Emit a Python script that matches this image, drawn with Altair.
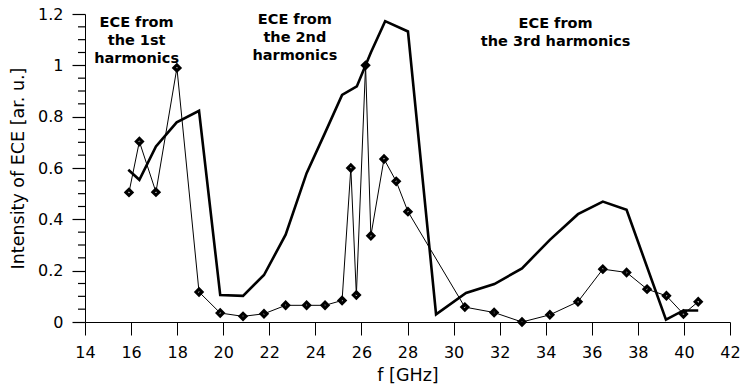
import altair as alt
import pandas as pd

# Measured ECE intensity (thin line with diamonds)
meas_f = [15.91, 16.36, 17.08, 17.99, 18.95, 19.87, 20.86, 21.77, 22.71, 23.62,
          24.42, 25.16, 25.54, 25.78, 26.18, 26.41, 26.98, 27.51, 28.02, 30.49,
          31.76, 32.97, 34.18, 35.40, 36.48, 37.51, 38.40, 39.24, 39.98, 40.62]
meas_v = [0.505, 0.703, 0.506, 0.99, 0.117, 0.035, 0.022, 0.032, 0.065, 0.065,
          0.065, 0.084, 0.60, 0.105, 1.0, 0.336, 0.635, 0.548, 0.43, 0.058,
          0.037, 0.0, 0.028, 0.079, 0.206, 0.193, 0.128, 0.102, 0.031, 0.079]

# Calculated ECE intensity (thick line)
calc_f = [15.88, 16.36, 17.08, 17.98, 18.95, 19.87, 20.86, 21.77, 22.71, 23.62,
          24.42, 25.16, 25.80, 26.18, 26.41, 27.03, 28.02, 29.24, 30.54, 31.77,
          32.97, 34.18, 35.40, 36.48, 37.51, 39.22, 39.98, 40.62]
calc_v = [0.593, 0.554, 0.684, 0.778, 0.823, 0.105, 0.102, 0.183, 0.34, 0.58,
          0.737, 0.885, 0.918, 1.0, 1.05, 1.172, 1.132, 0.03, 0.113, 0.148,
          0.209, 0.32, 0.42, 0.469, 0.437, 0.009, 0.045, 0.045]

# Harmonic region labels, anchored in data units (top of first line)
note_text = ["ECE from\nthe 1st\nharmonics",
             "ECE from\nthe 2nd\nharmonics",
             "ECE from\nthe 3rd harmonics"]
note_f = [16.24, 23.11, 34.43]
note_v = [1.194, 1.203, 1.19]

x_ticks = list(range(14, 43, 2))
y_ticks = [0, 0.2, 0.4, 0.6, 0.8, 1.0, 1.2]
y_minor = [0.05, 0.1, 0.15, 0.25, 0.3, 0.35, 0.45, 0.5, 0.55, 0.65, 0.7, 0.75,
           0.85, 0.9, 0.95, 1.05, 1.1, 1.15]

meas = pd.DataFrame({"f": meas_f, "v": meas_v, "i": range(len(meas_f))})
calc = pd.DataFrame({"f": calc_f, "v": calc_v, "i": range(len(calc_f))})
notes = pd.DataFrame({"t": note_text, "f": note_f, "v": note_v})
minor = pd.DataFrame({"v": y_minor})

FONT = "DejaVu Sans"
W, H = 645, 308

xs = alt.Scale(domain=[14, 42], nice=False, zero=False)
ys = alt.Scale(domain=[0, 1.2], nice=False)

x_enc = alt.X("f:Q", scale=xs, title="f [GHz]",
              axis=alt.Axis(values=x_ticks, tickSize=13, labelPadding=9,
                            titlePadding=6, labelFontSize=16, titleFontSize=17.5,
                            grid=False, labelFlush=False))
y_enc = alt.Y("v:Q", scale=ys, title="Intensity of ECE [ar. u.]",
              axis=alt.Axis(values=y_ticks, tickSize=13, labelPadding=9,
                            titlePadding=10, labelFontSize=16, titleFontSize=17.5,
                            tickWidth=1.2, grid=False, labelFlush=False, format="~g"))

calc_line = alt.Chart(calc).mark_line(color="black", strokeWidth=2.6).encode(
    x=x_enc, y=y_enc, order="i:Q")

meas_line = alt.Chart(meas).mark_line(color="black", strokeWidth=1).encode(
    x=alt.X("f:Q", scale=xs), y=alt.Y("v:Q", scale=ys), order="i:Q")

meas_pts = alt.Chart(meas).mark_point(
    shape="diamond", filled=False, color="black", strokeWidth=3, size=38, opacity=1
).encode(x=alt.X("f:Q", scale=xs), y=alt.Y("v:Q", scale=ys))

# short minor ticks just left of the y axis
minor_ticks = alt.Chart(minor).mark_rule(color="black", strokeWidth=1.2).encode(
    y=alt.Y("v:Q", scale=ys), x=alt.value(-7), x2=alt.value(0))

labels = alt.Chart(notes).mark_text(
    font=FONT, fontSize=14.5, fontWeight="bold", color="black",
    align="center", baseline="top", lineBreak="\n", lineHeight=18
).encode(x=alt.X("f:Q", scale=xs), y=alt.Y("v:Q", scale=ys), text="t:N")

chart = alt.layer(calc_line, meas_line, meas_pts, minor_ticks, labels).properties(
    width=W, height=H,
    autosize=alt.AutoSizeParams(type="none"),
    padding={"left": 85, "top": 14, "right": 13, "bottom": 62},
    background="white",
).configure_view(stroke=None).configure_axis(
    domainColor="black", tickColor="black", labelColor="black", titleColor="black",
    labelFont=FONT, titleFont=FONT, titleFontWeight="normal", domainWidth=1, tickWidth=1
)

chart.save("out.html", embed_options={"renderer": "svg", "actions": False})
